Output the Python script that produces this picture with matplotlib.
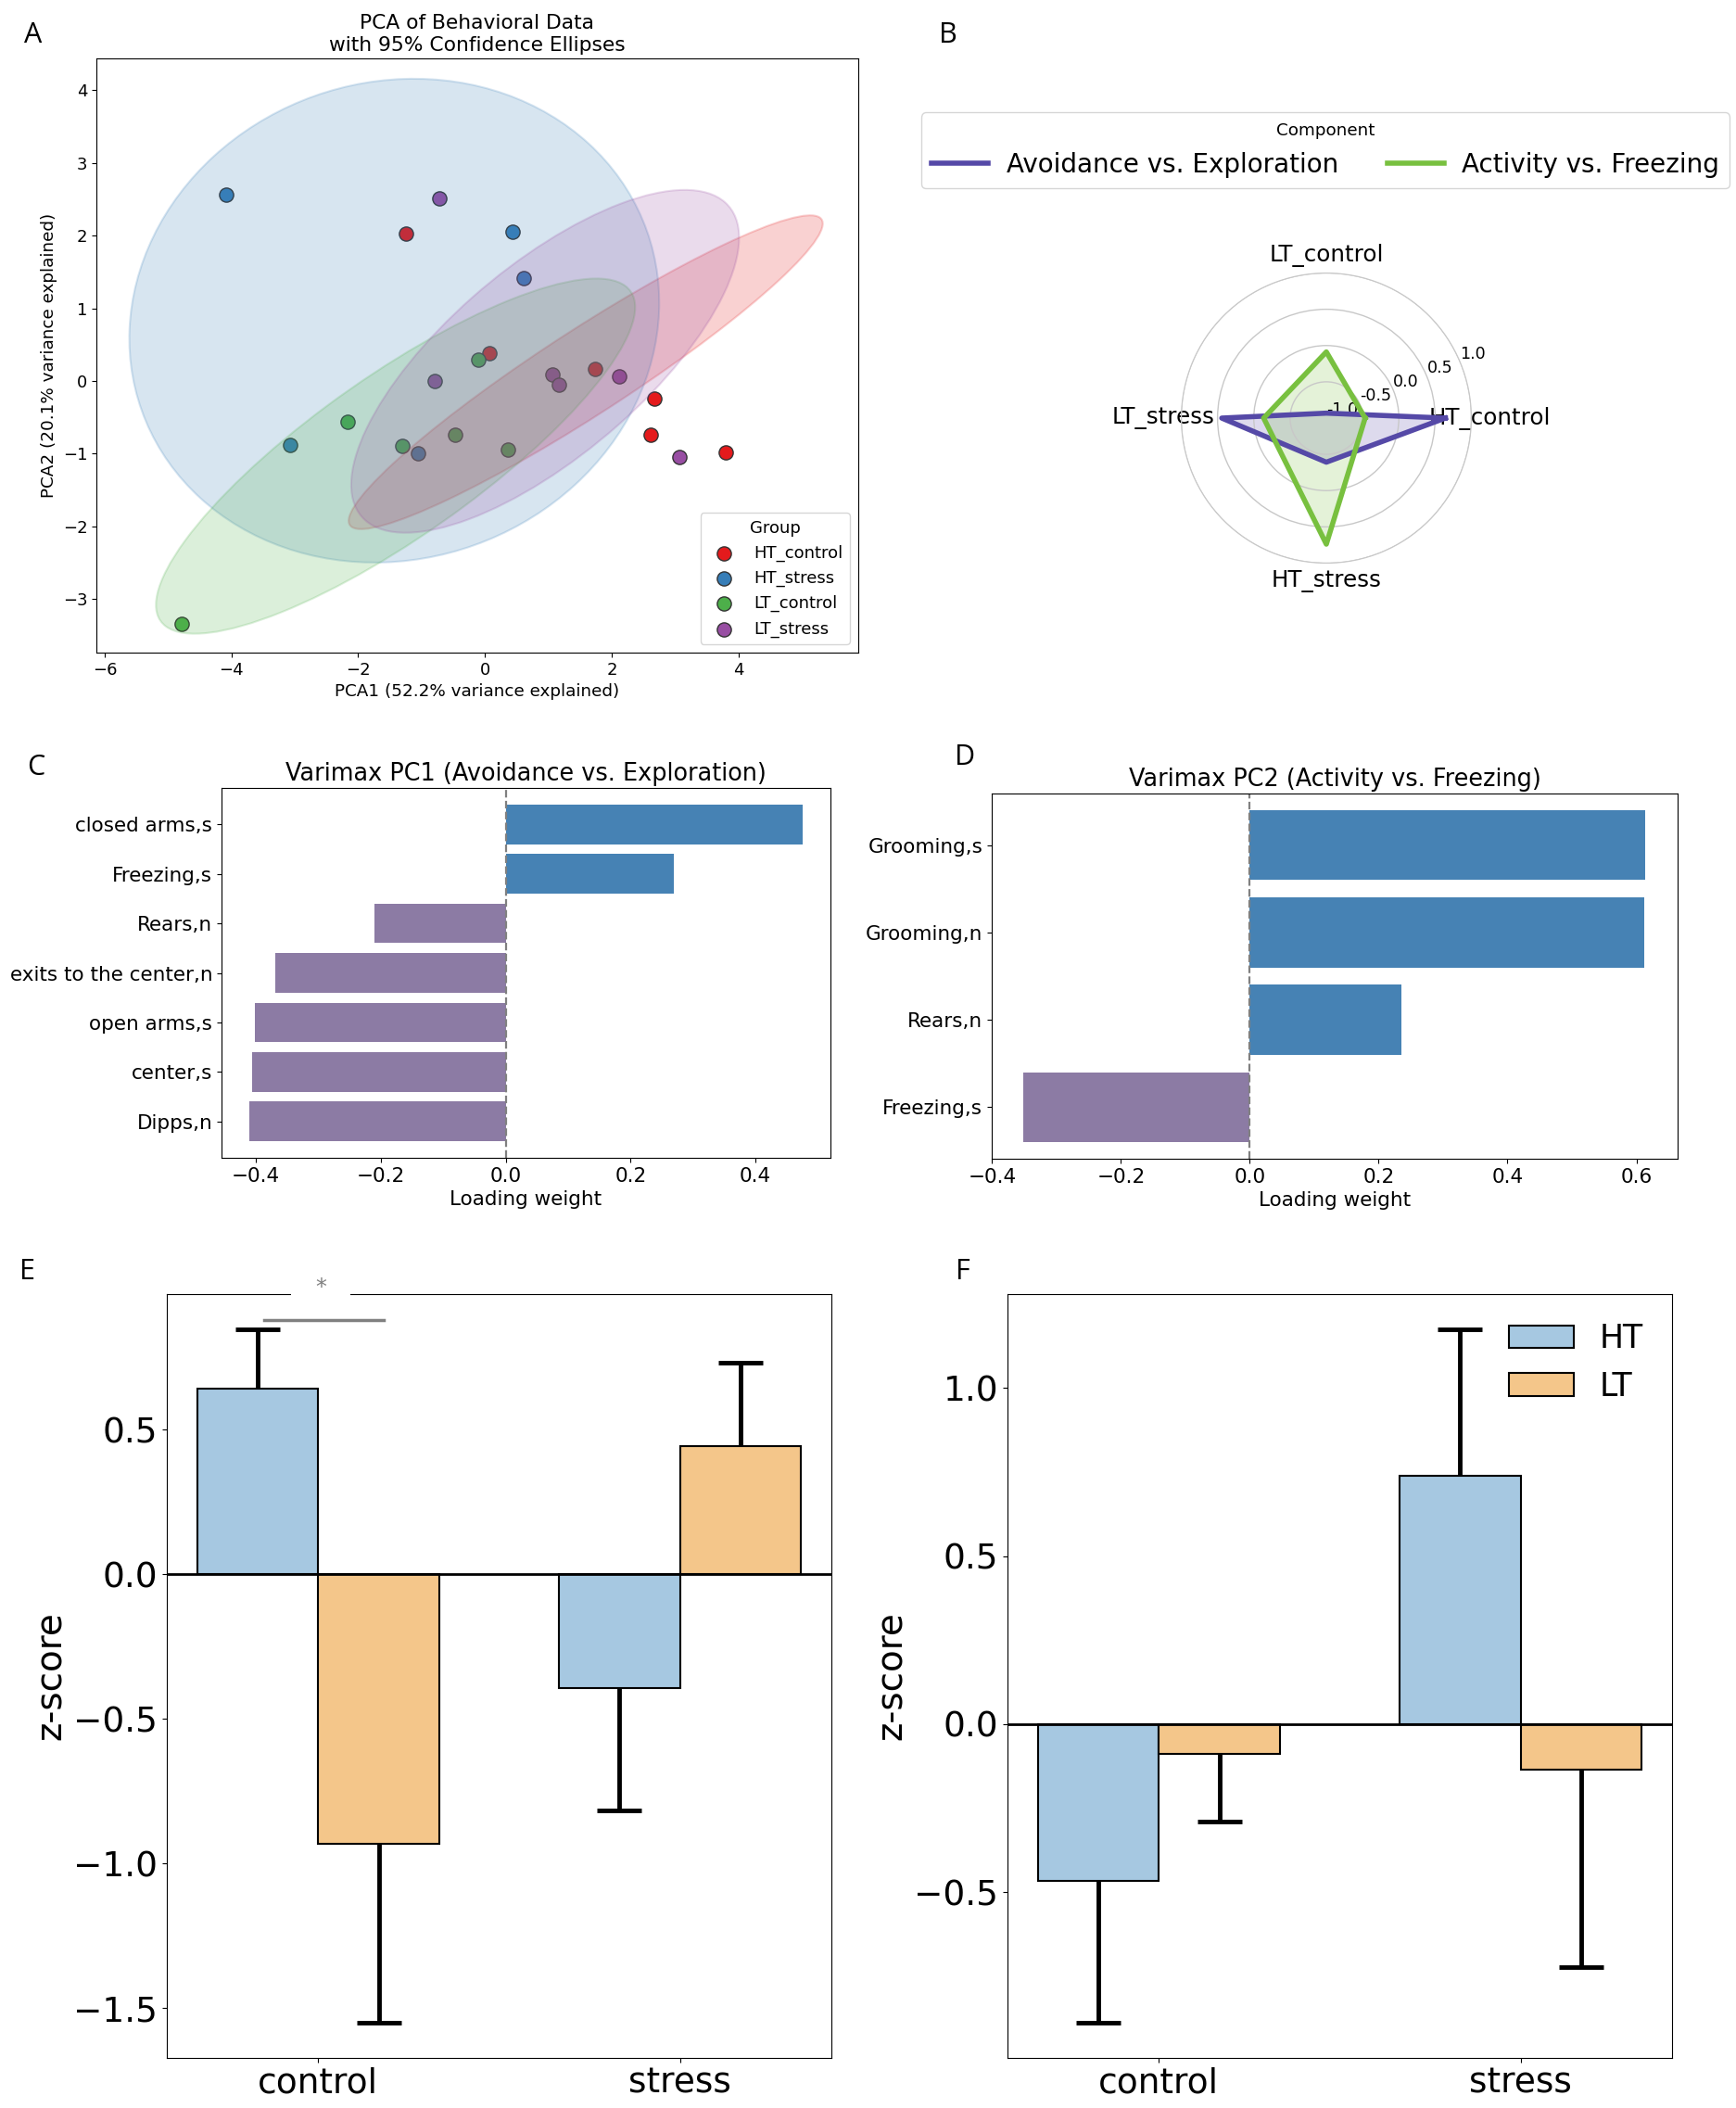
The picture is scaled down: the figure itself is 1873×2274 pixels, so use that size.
import numpy as np
import matplotlib
matplotlib.use("Agg")
import matplotlib.pyplot as plt
import matplotlib.transforms as transforms
from matplotlib.patches import Ellipse

# ---- data ----
GROUPS = ["HT_control", "HT_stress", "LT_control", "LT_stress"]
GROUP_COLORS = ["#e41a1c", "#377eb8", "#4daf4a", "#984ea3"]

HT_CONTROL_X = [-1.25, 0.07, 1.73, 2.67, 2.61, 3.80]
HT_CONTROL_Y = [2.03, 0.38, 0.17, -0.24, -0.74, -0.98]
HT_STRESS_X = [-4.08, 0.44, 0.61, -3.07, -1.06]
HT_STRESS_Y = [2.56, 2.05, 1.42, -0.88, -1.00]
LT_CONTROL_X = [-2.17, -0.11, -1.30, -0.47, 0.36, -4.79]
LT_CONTROL_Y = [-0.56, 0.29, -0.90, -0.74, -0.95, -3.35]
LT_STRESS_X = [-0.72, -0.79, 1.06, 1.17, 2.11, 3.07]
LT_STRESS_Y = [2.51, 0.00, 0.09, -0.05, 0.06, -1.05]

# ellipse per group: centre, half extent in x / y, correlation
ELL_CX = [1.59, -1.43, -1.41, 0.95]
ELL_CY = [0.12, 0.83, -1.035, 0.27]
ELL_HX = [3.74, 4.18, 3.78, 3.06]
ELL_HY = [2.16, 3.33, 2.445, 2.36]
ELL_RHO = [0.947, 0.074, 0.838, 0.72]

PC1_FEATURES = ["closed arms,s", "Freezing,s", "Rears,n", "exits to the center,n",
                "open arms,s", "center,s", "Dipps,n"]
PC1_LOADINGS = [0.476, 0.269, -0.211, -0.369, -0.402, -0.406, -0.411]
PC2_FEATURES = ["Grooming,s", "Grooming,n", "Rears,n", "Freezing,s"]
PC2_LOADINGS = [0.614, 0.612, 0.235, -0.351]

CONDITIONS = ["control", "stress"]
PC1_HT = [0.641, -0.392]
PC1_LT = [-0.932, 0.442]
PC1_HT_SEM = [0.206, 0.425]
PC1_LT_SEM = [0.618, 0.290]
PC2_HT = [-0.465, 0.738]
PC2_LT = [-0.088, -0.136]
PC2_HT_SEM = [0.424, 0.437]
PC2_LT_SEM = [0.203, 0.586]

RADAR_ORDER = ["HT_control", "LT_control", "LT_stress", "HT_stress"]
COMPONENTS = ["Avoidance vs. Exploration", "Activity vs. Freezing"]
COMP_COLORS = ["#5549a7", "#78c03f"]

POS_COLOR = "#4682b4"
NEG_COLOR = "#8c7ba4"
HT_COLOR = "#a6c8e1"
LT_COLOR = "#f4c68a"

W, H = 1874, 2274

fig = plt.figure(figsize=(W / 100, H / 100), dpi=100)


def px_axes(l, t, r, b, **kw):
    return fig.add_axes([l / W, 1 - b / H, (r - l) / W, (b - t) / H], **kw)


def draw_ellipse(ax, cx, cy, hx, hy, rho, **kw):
    ell = Ellipse((0, 0), width=2 * np.sqrt(1 + rho), height=2 * np.sqrt(1 - rho), **kw)
    tr = transforms.Affine2D().rotate_deg(45).scale(hx, hy).translate(cx, cy)
    ell.set_transform(tr + ax.transData)
    return ax.add_patch(ell)


def panel_letter(x, y, s):
    fig.text(x / W, 1 - y / H, s, fontsize=22, family="Open Sans",
             ha="center", va="center")


# ---- A: PCA scatter ----
ax = px_axes(104, 63, 926, 704)
pts = {
    "HT_control": (HT_CONTROL_X, HT_CONTROL_Y),
    "HT_stress": (HT_STRESS_X, HT_STRESS_Y),
    "LT_control": (LT_CONTROL_X, LT_CONTROL_Y),
    "LT_stress": (LT_STRESS_X, LT_STRESS_Y),
}
for g, c in zip(GROUPS, GROUP_COLORS):
    gx, gy = pts[g]
    ax.scatter(gx, gy, s=120, color=c, edgecolor="#333333", linewidth=1.0,
               label=g, zorder=1)
for i, c in enumerate(GROUP_COLORS):
    draw_ellipse(ax, ELL_CX[i], ELL_CY[i], ELL_HX[i], ELL_HY[i], ELL_RHO[i],
                 facecolor=c, edgecolor=c, alpha=0.2, linewidth=1.5, zorder=2)
ax.set_xlim(-6.13, 5.89)
ax.set_ylim(-3.74, 4.44)
ax.set_xticks([-6, -4, -2, 0, 2, 4])
ax.tick_params(labelsize=13)
ax.set_xlabel("PCA1 (52.2% variance explained)", fontsize=13.2)
ax.set_ylabel("PCA2 (20.1% variance explained)", fontsize=13.2)
ax.set_title("PCA of Behavioral Data\nwith 95% Confidence Ellipses", fontsize=15.7)
ax.legend(title="Group", loc="lower right", fontsize=13, title_fontsize=13)
panel_letter(36, 38, "A")

# ---- B: radar ----
pax = px_axes(1274.5, 294.5, 1587.5, 607.5, projection="polar")
angles = np.linspace(0, 2 * np.pi, len(RADAR_ORDER), endpoint=False)
ang_closed = np.concatenate([angles, angles[:1]])
means = {}
for i, cond in enumerate(CONDITIONS):
    means["HT_" + cond] = (PC1_HT[i], PC2_HT[i])
    means["LT_" + cond] = (PC1_LT[i], PC2_LT[i])
handles = []
for k, (name, col) in enumerate(zip(COMPONENTS, COMP_COLORS)):
    vals = [means[g][k] for g in RADAR_ORDER]
    vals = vals + vals[:1]
    h, = pax.plot(ang_closed, vals, color=col, linewidth=4, label=name)
    pax.fill(ang_closed, vals, color=col, alpha=0.2)
    handles.append(h)
pax.set_ylim(-1, 1)
pax.set_yticks([-1.0, -0.5, 0.0, 0.5, 1.0])
pax.set_yticklabels(["-1.0", "-0.5", "0.0", "0.5", "1.0"], fontsize=12.6)
pax.set_xticks(angles)
pax.set_xticklabels(RADAR_ORDER, fontsize=17.7)
pax.xaxis.grid(False)
pax.yaxis.grid(True, color="#c8c8c8", linewidth=1)
pax.spines["polar"].set_color("#c8c8c8")
pax.legend(handles=handles, title="Component", ncol=2, loc="center",
           bbox_to_anchor=((994 + 1866) / 2 / W, 1 - (121 + 203) / 2 / H),
           bbox_transform=fig.transFigure, handlelength=2.2, handletextpad=0.7,
           fontsize=20, title_fontsize=13.2, columnspacing=1.9)
panel_letter(1023, 38, "B")


# ---- C / D: loadings ----
def loading_panel(rect, feats, loads, title, xlim=None):
    a = px_axes(*rect)
    y = np.arange(len(feats))
    cols = [POS_COLOR if v > 0 else NEG_COLOR for v in loads]
    a.barh(y, loads, height=0.8, color=cols)
    a.axvline(0, color="gray", linestyle="--", linewidth=1.6)
    a.set_yticks(y)
    a.set_yticklabels(feats)
    a.invert_yaxis()
    if xlim is not None:
        a.set_xlim(*xlim)
    a.tick_params(labelsize=15.5)
    a.set_xlabel("Loading weight", fontsize=15.5)
    a.set_title(title, fontsize=18.4)
    return a


loading_panel((239, 850, 896, 1249), PC1_FEATURES, PC1_LOADINGS,
              "Varimax PC1 (Avoidance vs. Exploration)")
panel_letter(39, 828, "C")
loading_panel((1070, 856, 1810, 1250), PC2_FEATURES, PC2_LOADINGS,
              "Varimax PC2 (Activity vs. Freezing)", xlim=(-0.4005, 0.664))
panel_letter(1041, 817, "D")


# ---- E / F: group means ----
def zscore_panel(rect, ht, lt, ht_sem, lt_sem, ylim):
    a = px_axes(*rect)
    x = np.arange(len(CONDITIONS))
    w = 0.335
    for off, vals, sem, col, lab in [(-w / 2, ht, ht_sem, HT_COLOR, "HT"),
                                     (w / 2, lt, lt_sem, LT_COLOR, "LT")]:
        vals = np.asarray(vals)
        sem = np.asarray(sem)
        a.bar(x + off, vals, width=w, color=col, edgecolor="black",
              linewidth=1.5, label=lab)
        # one-sided error bars: away from zero only
        lower = np.where(vals < 0, sem, 0)
        upper = np.where(vals >= 0, sem, 0)
        _, caps, _ = a.errorbar(x + off, vals, yerr=[lower, upper], fmt="none",
                                ecolor="black", elinewidth=3.5, capsize=17,
                                capthick=3.5)
        for cap in caps:
            cx, cy = cap.get_data()
            keep = ~np.isclose(np.asarray(cy), vals)
            cap.set_data(np.asarray(cx)[keep], np.asarray(cy)[keep])
    a.axhline(0, color="black", linewidth=2)
    a.set_xticks(x)
    a.set_xticklabels(CONDITIONS)
    a.set_ylim(*ylim)
    a.tick_params(labelsize=27)
    a.set_ylabel("z-score", fontsize=28)
    return a


ax_e = zscore_panel((180, 1396, 897, 2220), PC1_HT, PC1_LT, PC1_HT_SEM,
                    PC1_LT_SEM, (-1.672, 0.969))
ax_e.set_yticks([-1.5, -1.0, -0.5, 0.0, 0.5])
# significance bracket between HT and LT in control
ax_e.plot([-0.15, 0.18], [0.878, 0.878], color="gray", linewidth=2.5,
          clip_on=False)
ax_e.plot([-0.074, 0.09], [0.969, 0.969], color="white", linewidth=4,
          clip_on=False, zorder=5, solid_capstyle="butt")
ax_e.text(0.008, 0.99, "*", ha="center", va="center", fontsize=17,
          color="gray", clip_on=False, zorder=6)
panel_letter(30, 1372, "E")

ax_f = zscore_panel((1087, 1396, 1804, 2220), PC2_HT, PC2_LT, PC2_HT_SEM,
                    PC2_LT_SEM, (-0.993, 1.279))
ax_f.set_yticks([-0.5, 0.0, 0.5, 1.0])
ax_f.legend(loc="upper right", frameon=False, fontsize=25)
panel_letter(1039, 1372, "F")

fig.savefig("out.png", dpi=100)
